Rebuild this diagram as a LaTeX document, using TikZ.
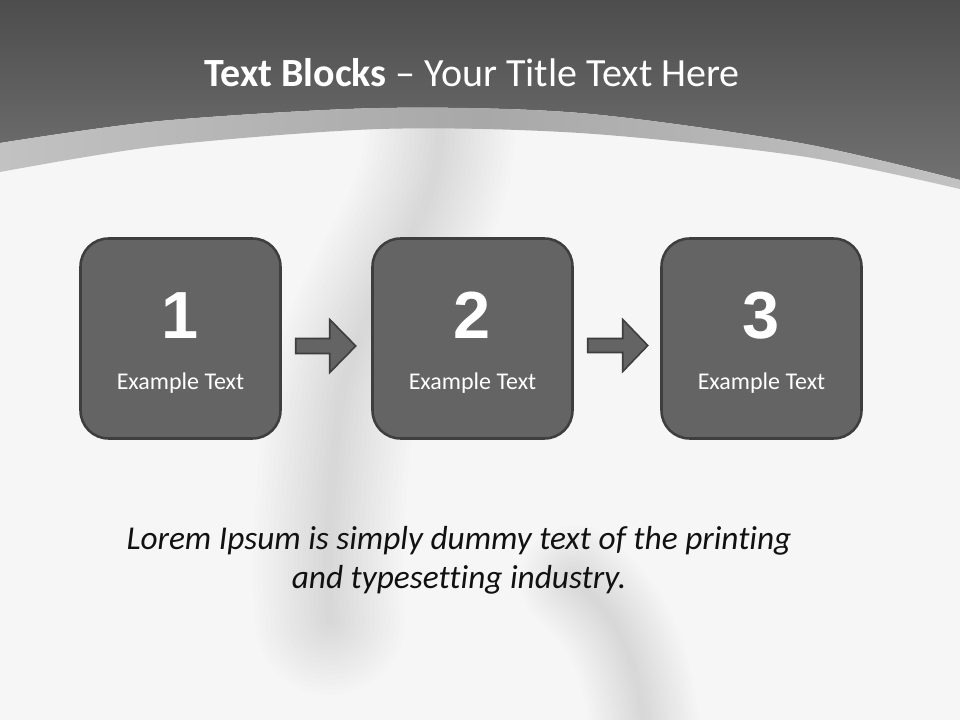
\documentclass[tikz,border=0pt]{standalone}
\usepackage{fontspec}
\setmainfont{Carlito}[Ligatures=NoCommon]
\newfontfamily\numfont{Liberation Sans}
\usetikzlibrary{calc}
\definecolor{bgwhite}{HTML}{F6F6F6}
\definecolor{topdark}{HTML}{4D4D4D}
\definecolor{toplow}{HTML}{717171}
\definecolor{bandlight}{HTML}{C2C2C2}
\definecolor{bandmid}{HTML}{A8A8A8}
\definecolor{boxfill}{HTML}{646464}
\definecolor{boxline}{HTML}{3E3E3E}
\definecolor{lorem}{HTML}{111111}
\tikzset{
  stepbox/.style={draw=boxline, line width=1.9pt, fill=boxfill, rounded corners=21pt,
    minimum width=150pt, minimum height=150pt, inner sep=0pt},
  numtext/.style={text=white, font=\numfont\bfseries\fontsize{50}{50}\selectfont, inner sep=0pt},
  labeltext/.style={text=white, font=\fontsize{18}{21}\selectfont, inner sep=0pt, anchor=base},
  blockarrow/.style={draw=boxline, line width=1.2pt, fill=boxfill, line join=miter},
  streak/.style={draw=black, opacity=0.009, line cap=round},
}
\begin{document}
\begin{tikzpicture}[x=0.75pt, y=-0.75pt]
\useasboundingbox (0,0) rectangle (960,720);
% background
\fill[bgwhite] (0,0) rectangle (960,720);
% soft streaks
\foreach \w in {150,140,...,10}{
  \draw[streak, line width=\w*0.75pt] (440,120) .. controls (445,230) and (350,300) .. (338,420) .. controls (330,500) and (325,560) .. (330,620);
  \draw[streak, opacity=0.007, line width=\w*0.55pt] (575,580) .. controls (615,615) and (640,650) .. (648,760);
}
% top dark region
\shade[top color=topdark, bottom color=toplow] (0,0) -- (960,0) --
  plot[smooth] coordinates {(960,180) (800,143) (580,113) (380,108) (160,121) (0,143)} -- cycle;
% light band
\shade[left color=bandlight, right color=bandlight, middle color=bandmid]
  plot[smooth] coordinates {(0,143) (160,121) (380,108) (580,113) (800,143) (960,180)} --
  plot[smooth] coordinates {(960,189) (800,156) (580,133) (380,129) (160,146) (0,172)} -- cycle;
% title
\node[anchor=base, text=white, font=\fontsize{30}{36}\selectfont, inner sep=0pt] (title) at (472,87)
  {\textbf{Text Blocks} – Your Title Text Here};
% boxes
\node[stepbox] (b1) at (180.5,338.5) {};
\node[stepbox] (b2) at (472.5,338.5) {};
\node[stepbox] (b3) at (761.5,338.5) {};
\node[numtext] (n1) at ($(b1)+(0,-23)$) {1};
\node[numtext] (n2) at ($(b2)+(0,-23)$) {2};
\node[numtext] (n3) at ($(b3)+(0,-23)$) {3};
\node[labeltext] (t1) at ($(b1)+(0,50.5)$) {Example Text};
\node[labeltext] (t2) at ($(b2)+(0,50.5)$) {Example Text};
\node[labeltext] (t3) at ($(b3)+(0,50.5)$) {Example Text};
% block arrows between boxes
\coordinate (a1) at ($(b1.east)+(14,7)$);
\coordinate (a2) at ($(b2.east)+(14,7)$);
\draw[blockarrow] (a1) ++(0,-7) -- ++(34,0) -- ++(0,-19) -- ++(26,26.5) -- ++(-26,26.5) -- ++(0,-19) -- ++(-34,0) -- cycle;
\draw[blockarrow] (a2) ++(0,-7) -- ++(35,0) -- ++(0,-19) -- ++(25,26) -- ++(-25,26) -- ++(0,-19) -- ++(-35,0) -- cycle;
% lorem text
\node[anchor=base, text=lorem, font=\itshape\fontsize{25}{30}\selectfont, inner sep=0pt] (l1) at (459,549)
  {Lorem Ipsum is simply dummy text of the printing};
\node[anchor=base, text=lorem, font=\itshape\fontsize{25}{30}\selectfont, inner sep=0pt] (l2) at (459,588)
  {and typesetting industry.};
\end{tikzpicture}
\end{document}
